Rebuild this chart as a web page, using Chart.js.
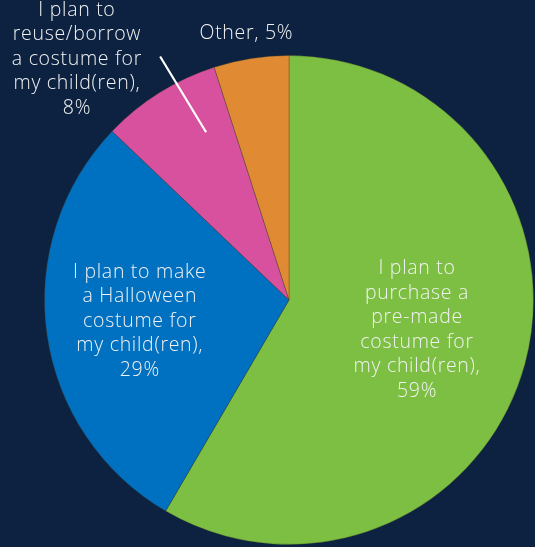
<!DOCTYPE html>
<html>
<head>
<meta charset="utf-8">
<script src="https://cdn.jsdelivr.net/npm/chart.js@4/dist/chart.umd.min.js"></script>
<style>
  html, body { margin: 0; padding: 0; background: #0c2240; }
  #wrap { width: 535px; height: 547px; position: relative; }
</style>
</head>
<body>
<div id="wrap"><canvas id="c"></canvas></div>
<script>
// Costume plans for children this Halloween
const categories = [
  'I plan to purchase a pre-made costume for my child(ren)',
  'I plan to make a Halloween costume for my child(ren)',
  'I plan to reuse/borrow a costume for my child(ren)',
  'Other'
];
const shares = [59, 29, 8, 5];
const sliceColors = ['#7cbf43', '#0070c0', '#d8519e', '#e08a34'];
// Wrapped label lines for each slice (percent appended from shares)
const labelLines = [
  ['I plan to', 'purchase a', 'pre-made', 'costume for', 'my child(ren),'],
  ['I plan to make', 'a Halloween', 'costume for', 'my child(ren),'],
  ['I plan to', 'reuse/borrow', 'a costume for', 'my child(ren),'],
  []
];

// Label anchors as fractions of the pie radius from its centre
const anchors = [
  { fx: 0.522, fy: 0.122 },
  { fx: -0.612, fy: 0.086 },
  { fx: -0.869, fy: -0.984, leader: [-0.527, -0.996, -0.339, -0.686] },
  { fx: -0.176, fy: -1.09, inline: true }
];

const sliceLabels = {
  id: 'sliceLabels',
  afterDatasetsDraw(chart) {
    const ctx = chart.ctx;
    const meta = chart.getDatasetMeta(0);
    ctx.save();
    ctx.fillStyle = '#f2f2f2';
    ctx.font = '300 19.5px "Open Sans", Lato, sans-serif';
    if ('letterSpacing' in ctx) ctx.letterSpacing = '0.7px';
    ctx.textAlign = 'center';
    ctx.textBaseline = 'middle';
    const lh = 24.5;
    meta.data.forEach((arc, i) => {
      const a = anchors[i];
      const r = arc.outerRadius;
      const cx = arc.x + a.fx * r;
      const cy = arc.y + a.fy * r;
      let lines;
      if (a.inline) {
        lines = [categories[i] + ', ' + shares[i] + '%'];
      } else {
        lines = labelLines[i].concat([shares[i] + '%']);
      }
      const top = cy - (lines.length - 1) * lh / 2;
      lines.forEach((t, k) => ctx.fillText(t, cx + 0.4, top + k * lh));
      if (a.leader) {
        const L = a.leader;
        ctx.strokeStyle = '#ffffff';
        ctx.lineWidth = 2.2;
        ctx.beginPath();
        ctx.moveTo(arc.x + L[0] * r, arc.y + L[1] * r);
        ctx.lineTo(arc.x + L[2] * r, arc.y + L[3] * r);
        ctx.stroke();
      }
    });
    ctx.restore();
  }
};

new Chart(document.getElementById('c'), {
  type: 'pie',
  data: {
    labels: categories,
    datasets: [{
      data: shares,
      backgroundColor: sliceColors,
      borderColor: 'rgba(60,60,40,0.35)',
      borderWidth: 1
    }]
  },
  options: {
    responsive: true,
    maintainAspectRatio: false,
    animation: false,
    layout: { padding: { left: 44, right: 1, top: 55, bottom: 2 } },
    plugins: {
      legend: { display: false },
      tooltip: { enabled: false },
      title: { display: false }
    }
  },
  plugins: [sliceLabels]
});
</script>
</body>
</html>
